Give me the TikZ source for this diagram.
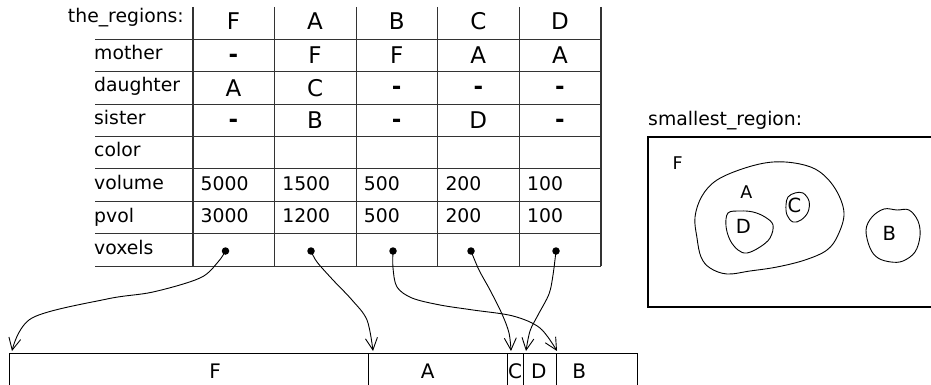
\documentclass[tikz,border=0pt]{standalone}
\usepackage{fontspec}
\setmainfont{DejaVu Sans}
\usetikzlibrary{arrows.meta}
\begin{document}
\begin{tikzpicture}[x=1pt,y=-1pt,
  grid/.style={line width=1.1pt, black!80},
  lbl/.style={anchor=base west, inner sep=0pt, font=\fontsize{18.8}{22}\selectfont},
  let/.style={anchor=base, inner sep=0pt, font=\fontsize{23}{27}\selectfont},
  hyph/.style={anchor=base, inner sep=0pt, font=\fontsize{23}{27}\selectfont\bfseries, yshift=1.5pt},
  num/.style={anchor=base west, inner sep=0pt, font=\fontsize{18.8}{22}\selectfont},
  dot/.style={circle, fill=black, inner sep=0pt, minimum size=7.5pt},
  seg/.style={draw, line width=1pt, rectangle, inner sep=0pt, minimum height=40pt, anchor=north west},
  barlbl/.style={inner sep=0pt, font=\fontsize{20}{24}\selectfont},
  link/.style={line width=0.9pt, -{Straight Barb[length=12pt,width=12pt]}},
  blob/.style={line width=0.9pt},
  inlbl/.style={inner sep=0pt, font=\fontsize{19.5}{23}\selectfont},
  inlbls/.style={inner sep=0pt, font=\fontsize{17.5}{21}\selectfont},
]
\useasboundingbox (0,0) rectangle (931,385);
\clip (0,0) rectangle (931,385);

% ---------- table grid ----------
\foreach \i in {0,...,7} {
  \draw[grid] (95,39.3+32.4*\i) -- (601,39.3+32.4*\i);
}
\foreach \j in {0,...,5} {
  \draw[grid] (193+81.6*\j,7) -- (193+81.6*\j,266.1);
}

% ---------- row labels ----------
\node[lbl, anchor=base east] (hdr) at (184,23) {the\_regions:};
\node[lbl] (lmother) at (94,59.7) {mother};
\node[lbl] (ldaughter) at (94,92) {daughter};
\node[lbl] (lsister) at (94,124.5) {sister};
\node[lbl] (lcolor) at (94,157) {color};
\node[lbl] (lvolume) at (94,189.5) {volume};
\node[lbl] (lpvol) at (94,222) {pvol};
\node[lbl] (lvoxels) at (94,254.5) {voxels};

% ---------- cell letters ----------
\foreach \t [count=\k from 0] in {F,A,B,C,D}
  \node[let] (h\k) at (233.5+81.6*\k,29.3) {\t};
% mother row
\node[hyph] (m0) at (233.5,64) {-};
\node[let] (m1) at (315.1,64) {F};
\node[let] (m2) at (396.7,64) {F};
\node[let] (m3) at (478.3,64) {A};
\node[let] (m4) at (559.9,64) {A};
% daughter row
\node[let] (d0) at (233.5,96.5) {A};
\node[let] (d1) at (315.1,96.5) {C};
\node[hyph] (d2) at (396.7,96.5) {-};
\node[hyph] (d3) at (478.3,96.5) {-};
\node[hyph] (d4) at (559.9,96.5) {-};
% sister row
\node[hyph] (s0) at (233.5,128.8) {-};
\node[let] (s1) at (315.1,128.8) {B};
\node[hyph] (s2) at (396.7,128.8) {-};
\node[let] (s3) at (478.3,128.8) {D};
\node[hyph] (s4) at (559.9,128.8) {-};

% ---------- numbers ----------
\foreach \t [count=\k from 0] in {5000,1500,500,200,100}
  \node[num] (v\k) at (200.5+81.6*\k,190) {\t};
\foreach \t [count=\k from 0] in {3000,1200,500,200,100}
  \node[num] (p\k) at (200.5+81.6*\k,222.3) {\t};

% ---------- voxel dots ----------
\node[dot] (xF) at (225.5,251) {};
\node[dot] (xA) at (311,251) {};
\node[dot] (xB) at (393,251) {};
\node[dot] (xC) at (471,251) {};
\node[dot] (xD) at (556,251) {};

% ---------- bottom bar ----------
\node[seg, minimum width=359.3pt] (sF) at (9,352.7) {};
\node[seg, minimum width=138.4pt] (sA) at (368.3,352.7) {};
\node[seg, minimum width=16pt] (sC) at (506.7,352.7) {};
\node[seg, minimum width=33.6pt] (sD) at (522.7,352.7) {};
\node[seg, minimum width=80.4pt] (sB) at (556.3,352.7) {};
\node[barlbl] (bF) at (215,370.8) {F};
\node[barlbl] (bA) at (427.7,370.8) {A};
\node[barlbl] (bC) at (515,370.8) {C};
\node[barlbl] (bD) at (538.8,370.8) {D};
\node[barlbl] (bB) at (579.3,370.8) {B};

% arrow end points on the bar
\coordinate (tF) at (12,351);
\coordinate (tA) at (373,351);
\coordinate (tB) at (557,351);
\coordinate (tC) at (511,351);
\coordinate (tD) at (526,351);

% ---------- links ----------
\draw[link] plot[smooth, tension=0.55] coordinates {(xF) (218,262) (200,278) (153,292) (107,299) (32,318) (tF)};
\draw[link] plot[smooth, tension=0.55] coordinates {(xA) (317,262) (333,280) (352,300) (367,320) (tA)};
\draw[link] plot[smooth, tension=0.55] coordinates {(xB) (393,268) (397,287) (412,298) (440,305) (473,310) (513,316) (540,328) (tB)};
\draw[link] plot[smooth, tension=0.55] coordinates {(xC) (479,270) (490,290) (502,314) (509,333) (tC)};
\draw[link] plot[smooth, tension=0.55] coordinates {(xD) (553,275) (549,294) (538,315) (530,331) (tD)};

% ---------- smallest region ----------
\node[lbl] (sr) at (648,125) {smallest\_region:};
\draw[line width=2pt] (945,137.3) -- (648.3,137.3) -- (648.3,307) -- (945,307);

\draw[blob] plot[smooth cycle, tension=0.6] coordinates {(695,217) (702,196) (717,180) (745,168) (773,162) (800,164) (820,172) (836,190) (844,213) (838,235) (827,250) (805,260) (777,267) (750,271) (727,274) (710,268) (701,257) (697,238)};
\draw[blob] plot[smooth cycle, tension=0.6] coordinates {(728,213) (740,211) (753,212) (765,217) (773,225) (770,238) (760,247) (747,253) (738,250) (730,240) (726,226)};
\draw[blob] plot[smooth cycle, tension=0.6] coordinates {(788,197) (795,193) (803,193) (809,201) (808,212) (801,220) (793,222) (787,215) (786,205)};
\draw[blob] plot[smooth cycle, tension=0.6] coordinates {(866,230) (872,217) (884,209) (897,210) (909,210) (918,221) (920,236) (915,252) (903,261) (891,262) (878,258) (870,248)};

\node[inlbls] (rF) at (677.7,162.8) {F};
\node[inlbls] (rA) at (746.3,192.5) {A};
\node[inlbl] (rD) at (743.3,226.2) {D};
\node[inlbl] (rC) at (794.5,205.2) {C};
\node[inlbl] (rB) at (889.2,233.3) {B};
\end{tikzpicture}
\end{document}
